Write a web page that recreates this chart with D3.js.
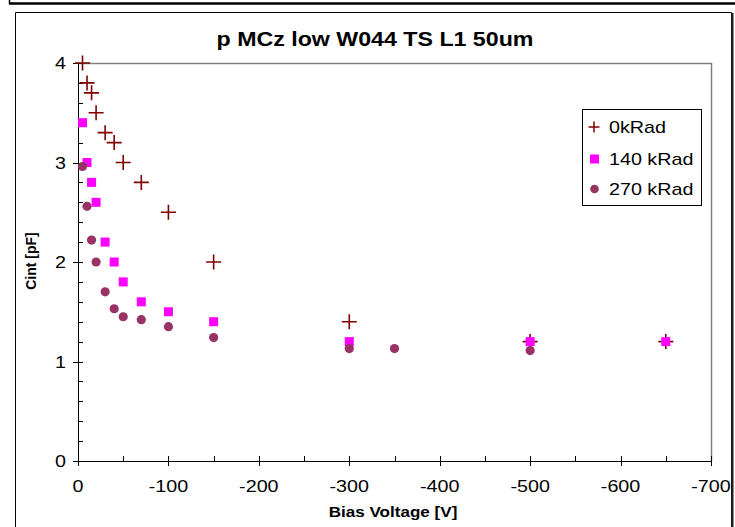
<!DOCTYPE html>
<html>
<head>
<meta charset="utf-8">
<script src="https://cdn.jsdelivr.net/npm/d3@7"></script>
<style>
  html, body { margin: 0; padding: 0; background: #fff; }
  svg { display: block; font-family: Arial, "Liberation Sans", sans-serif; }
</style>
</head>
<body>
<svg id="chart" width="735" height="527"></svg>
<script>
// ---------- data ----------
const title = "p MCz low W044 TS L1 50um";
const xLabel = "Bias Voltage [V]";
const yLabel = "Cint [pF]";

const seriesNames = ["0kRad", "140 kRad", "270 kRad"];

const v0 = [-5, -10, -15, -20, -30, -40, -50, -70, -100, -150, -300, -500, -650];
const c0 = [4.0, 3.8, 3.7, 3.5, 3.3, 3.2, 3.0, 2.8, 2.5, 2.0, 1.4, 1.2, 1.2];

const v140 = [-5, -10, -15, -20, -30, -40, -50, -70, -100, -150, -300, -500, -650];
const c140 = [3.4, 3.0, 2.8, 2.6, 2.2, 2.0, 1.8, 1.6, 1.5, 1.4, 1.2, 1.2, 1.2];

const v270 = [-5, -10, -15, -20, -30, -40, -50, -70, -100, -150, -300, -350, -500];
const c270 = [2.96, 2.56, 2.22, 2.0, 1.7, 1.53, 1.45, 1.42, 1.35, 1.24, 1.13, 1.13, 1.11];

const xTicks = [0, -100, -200, -300, -400, -500, -600, -700];
const yTicks = [0, 1, 2, 3, 4];

// ---------- layout ----------
const svg = d3.select("#chart");
const W = 735, H = 527;
const plot = { left: 78, right: 711, top: 63, bottom: 461 };
const stretch = 1.16; // text in the original is a bit wide

const x = d3.scaleLinear().domain([0, -700]).range([plot.left, plot.right]);
const y = d3.scaleLinear().domain([0, 4]).range([plot.bottom, plot.top]);

const crossColor = "#800000";
const squareColor = "#ff00ff";
const circleColor = "#993366";

// wide text helper
function label(parent, tx, ty, str, size, opts = {}) {
  const rot = opts.rotate ? ` rotate(${opts.rotate})` : "";
  const sx = opts.stretch || stretch;
  return parent.append("text")
    .attr("transform", `translate(${tx},${ty})${rot} scale(${sx},1)`)
    .attr("text-anchor", opts.anchor || "start")
    .attr("font-size", size)
    .attr("font-weight", opts.bold ? "bold" : null)
    .text(str);
}

// frame
svg.append("line").attr("x1", 9).attr("x2", W).attr("y1", 3.5).attr("y2", 3.5)
  .attr("stroke", "#000").attr("stroke-width", 2.5);
svg.append("line").attr("x1", 9.5).attr("x2", 9.5).attr("y1", 0).attr("y2", 4)
  .attr("stroke", "#000").attr("stroke-width", 1.5);
svg.append("path")
  .attr("d", `M15.5,${H} V12.5 H731.5 V${H}`)
  .attr("fill", "none").attr("stroke", "#000").attr("stroke-width", 1);
svg.append("line").attr("x1", 732.5).attr("x2", 732.5).attr("y1", 13).attr("y2", H)
  .attr("stroke", "#222").attr("stroke-width", 2);

// plot area border (top grid + right)
svg.append("path")
  .attr("d", `M${plot.left},${plot.top + 0.5} H${plot.right + 0.5} V${plot.bottom}`)
  .attr("fill", "none").attr("stroke", "#808080").attr("stroke-width", 1.5);

// ---------- axes ----------
const gy = svg.append("g");
gy.append("line").attr("x1", plot.left + 0.5).attr("x2", plot.left + 0.5)
  .attr("y1", plot.top).attr("y2", plot.bottom).attr("stroke", "#000");
d3.range(0, 4.001, 0.2).forEach(v => {
  const yy = Math.round(y(v)) + 0.5;
  const major = Math.abs(v - Math.round(v)) < 1e-6;
  gy.append("line")
    .attr("x1", major ? plot.left - 5 : plot.left)
    .attr("x2", plot.left + 5)
    .attr("y1", yy).attr("y2", yy).attr("stroke", "#000");
});
yTicks.forEach(d => label(gy, plot.left - 12, y(d) + 6, d, 17, { anchor: "end" }));

const gx = svg.append("g");
gx.append("line").attr("x1", plot.left).attr("x2", plot.right)
  .attr("y1", plot.bottom + 0.5).attr("y2", plot.bottom + 0.5).attr("stroke", "#000");
d3.range(0, -701, -50).forEach(v => {
  const xx = Math.round(x(v)) + 0.5;
  const major = v % 100 === 0;
  gx.append("line")
    .attr("x1", xx).attr("x2", xx)
    .attr("y1", plot.bottom - 5)
    .attr("y2", major ? plot.bottom + 5 : plot.bottom)
    .attr("stroke", "#000");
});
xTicks.forEach(d => label(gx, x(d), 492, d, 17, { anchor: "middle" }));

// titles
label(svg, 375, 46, title, 20, { anchor: "middle", bold: true });
label(svg, 393, 517, xLabel, 14, { anchor: "middle", bold: true, stretch: 1.22 });
label(svg, 36, 261, yLabel, 14, { anchor: "middle", bold: true, rotate: -90, stretch: 1.0 });

// ---------- marks ----------
const crossPath = (s) => `M${-s},0 H${s} M0,${-s} V${s}`;

const s0 = v0.map((v, i) => ({ v, c: c0[i] }));
const s140 = v140.map((v, i) => ({ v, c: c140[i] }));
const s270 = v270.map((v, i) => ({ v, c: c270[i] }));

svg.append("g").selectAll("path").data(s0).enter().append("path")
  .attr("transform", d => `translate(${x(d.v)},${y(d.c)})`)
  .attr("d", crossPath(7.5))
  .attr("stroke", crossColor).attr("stroke-width", 1.6).attr("fill", "none");

svg.append("g").selectAll("rect").data(s140).enter().append("rect")
  .attr("x", d => x(d.v) - 4.5).attr("y", d => y(d.c) - 4.5)
  .attr("width", 9).attr("height", 9)
  .attr("fill", squareColor);

svg.append("g").selectAll("circle").data(s270).enter().append("circle")
  .attr("cx", d => x(d.v)).attr("cy", d => y(d.c))
  .attr("r", 4.6).attr("fill", circleColor);

// ---------- legend ----------
const lg = svg.append("g");
lg.append("rect").attr("x", 582.5).attr("y", 109.5).attr("width", 119).attr("height", 96)
  .attr("fill", "#fff").attr("stroke", "#000").attr("stroke-width", 1);
const legendY = [127, 159, 189];
lg.append("path").attr("transform", `translate(594,${legendY[0]})`)
  .attr("d", crossPath(5.5)).attr("stroke", crossColor).attr("stroke-width", 1.5);
lg.append("rect").attr("x", 590).attr("y", legendY[1] - 4.5)
  .attr("width", 9).attr("height", 9).attr("fill", squareColor);
lg.append("circle").attr("cx", 594.5).attr("cy", legendY[2]).attr("r", 4.3)
  .attr("fill", circleColor);
seriesNames.forEach((d, i) => label(lg, 609, legendY[i] + 6, d, 17));
</script>
</body>
</html>
